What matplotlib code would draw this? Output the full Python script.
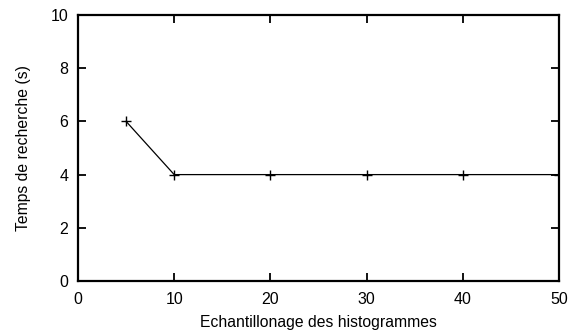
import matplotlib
matplotlib.use("Agg")
import matplotlib.pyplot as plt

plt.rcParams["font.family"] = ["Liberation Sans", "DejaVu Sans"]

# sampling step of the histograms vs search time
echantillonage = [5, 10, 20, 30, 40, 50]
temps = [6, 4, 4, 4, 4, 4]

fig = plt.figure(figsize=(5.75, 3.32), dpi=100)
ax = fig.add_axes([78 / 575, 1 - 281 / 332, (559 - 78) / 575, (281 - 15) / 332])

ax.plot(echantillonage, temps, color="black", lw=0.9, marker="+",
        markersize=7, markeredgewidth=1.0)

ax.set_xlim(0, 50)
ax.set_ylim(0, 10)
ax.set_xticks([0, 10, 20, 30, 40, 50])
ax.set_yticks([0, 2, 4, 6, 8, 10])
ax.tick_params(direction="in", length=6, width=1.3, top=True, right=True,
               labelsize=11.5)
ax.tick_params(axis="x", pad=8)
ax.tick_params(axis="y", pad=7)
for s in ax.spines.values():
    s.set_linewidth(1.6)

ax.set_xlabel("Echantillonage des histogrammes", fontsize=11.3, labelpad=6)
ax.set_ylabel("Temps de recherche (s)", fontsize=11.3, labelpad=14)

fig.savefig("out.png", dpi=100)
